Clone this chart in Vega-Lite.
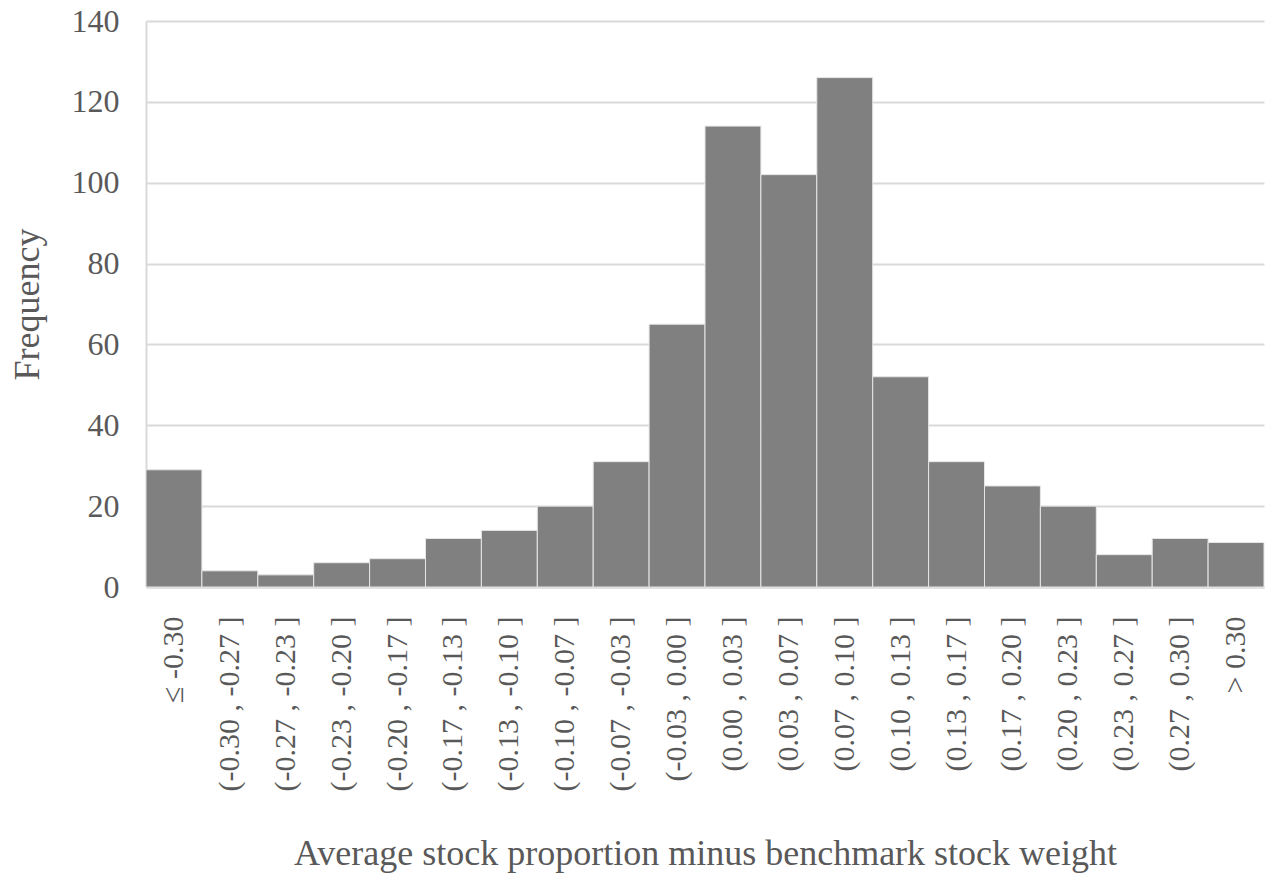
{
  "$schema": "https://vega.github.io/schema/vega-lite/v6.json",
  "width": 1118,
  "height": 566,
  "autosize": {"type": "none"},
  "padding": {"left": 146, "top": 21, "right": 1, "bottom": 287},
  "background": "white",
  "config": {
    "view": {"stroke": null},
    "font": "Liberation Serif"
  },
  "data": {
    "values": [
      {"bin": "≤ -0.30", "freq": 29},
      {"bin": "(-0.30 , -0.27 ]", "freq": 4},
      {"bin": "(-0.27 , -0.23 ]", "freq": 3},
      {"bin": "(-0.23 , -0.20 ]", "freq": 6},
      {"bin": "(-0.20 , -0.17 ]", "freq": 7},
      {"bin": "(-0.17 , -0.13 ]", "freq": 12},
      {"bin": "(-0.13 , -0.10 ]", "freq": 14},
      {"bin": "(-0.10 , -0.07 ]", "freq": 20},
      {"bin": "(-0.07 , -0.03 ]", "freq": 31},
      {"bin": "(-0.03 , 0.00 ]", "freq": 65},
      {"bin": "(0.00 , 0.03 ]", "freq": 114},
      {"bin": "(0.03 , 0.07 ]", "freq": 102},
      {"bin": "(0.07 , 0.10 ]", "freq": 126},
      {"bin": "(0.10 , 0.13 ]", "freq": 52},
      {"bin": "(0.13 , 0.17 ]", "freq": 31},
      {"bin": "(0.17 , 0.20 ]", "freq": 25},
      {"bin": "(0.20 , 0.23 ]", "freq": 20},
      {"bin": "(0.23 , 0.27 ]", "freq": 8},
      {"bin": "(0.27 , 0.30 ]", "freq": 12},
      {"bin": "> 0.30", "freq": 11}
    ]
  },
  "mark": {"type": "bar", "color": "#808080", "stroke": "#e6e6e6", "strokeWidth": 1},
  "encoding": {
    "x": {
      "field": "bin",
      "type": "nominal",
      "sort": null,
      "scale": {"paddingInner": 0, "paddingOuter": 0},
      "axis": {
        "title": "Average stock proportion minus benchmark stock weight",
        "titleFont": "Liberation Serif",
        "titleFontSize": 36,
        "titleFontWeight": "normal",
        "titleColor": "#595959",
        "titleY": 277,
        "titleBaseline": "alphabetic",
        "labelAngle": -90,
        "labelAlign": "right",
        "labelBaseline": "middle",
        "labelFontSize": 30,
        "labelColor": "#595959",
        "labelPadding": 29,
        "labelOverlap": false,
        "labelLimit": 0,
        "ticks": false,
        "domain": true,
        "domainColor": "#d9d9d9",
        "domainWidth": 2
      }
    },
    "y": {
      "field": "freq",
      "type": "quantitative",
      "scale": {"domain": [0, 140], "nice": false},
      "axis": {
        "title": "Frequency",
        "titleFont": "Liberation Serif",
        "titleFontSize": 36,
        "titleFontWeight": "normal",
        "titleColor": "#595959",
        "titleX": -119,
        "titleBaseline": "middle",
        "values": [0, 20, 40, 60, 80, 100, 120, 140],
        "labelFontSize": 32,
        "labelColor": "#595959",
        "labelPadding": 27,
        "ticks": false,
        "domain": true,
        "domainColor": "#d9d9d9",
        "domainWidth": 2,
        "grid": true,
        "gridColor": "#d9d9d9",
        "gridWidth": 2
      }
    }
  }
}
